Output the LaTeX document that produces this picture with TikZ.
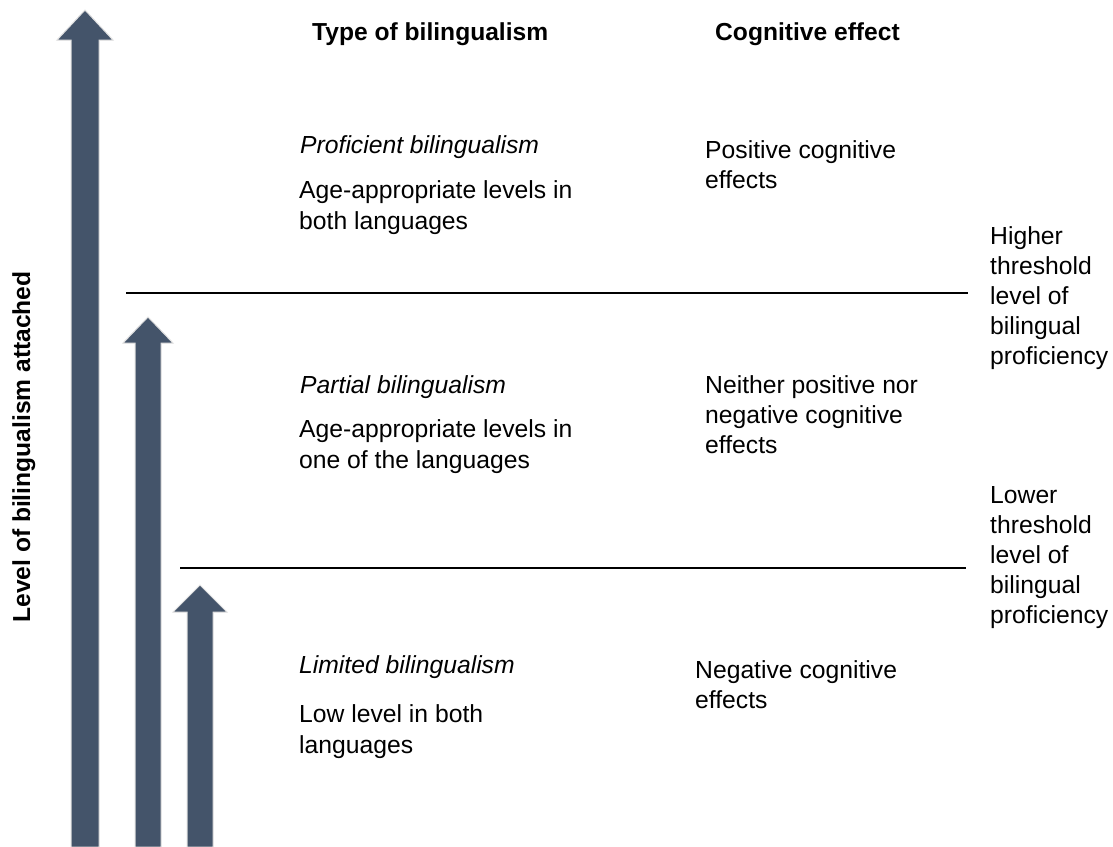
\documentclass[tikz,border=0pt]{standalone}
\usepackage{fontspec}
\setmainfont{Liberation Sans}
\definecolor{arrowblue}{HTML}{44546A}
\begin{document}
\begin{tikzpicture}[x=1pt,y=-1pt,
  txt/.style={anchor=base west, inner sep=0pt, align=left, font=\fontsize{24.7}{31}\selectfont},
  rtxt/.style={anchor=base west, inner sep=0pt, align=left, font=\fontsize{24.7}{30}\selectfont},
  head/.style={anchor=base west, inner sep=0pt, font=\fontsize{24.6}{30}\selectfont\bfseries},
  ital/.style={anchor=base west, inner sep=0pt, font=\fontsize{24.7}{30}\selectfont\itshape},
  bigarrow/.style={fill=arrowblue, draw=black!12, line width=1pt},
  threshold/.style={line width=2pt, black}]
\useasboundingbox (0,0) rectangle (1113,846);
% arrows
\fill[bigarrow] (71,847) -- (71,40) -- (57,40) -- (85,10) -- (113,40) -- (99,40) -- (99,847) -- cycle;
\fill[bigarrow] (135,847) -- (135,343) -- (123,343) -- (148,317) -- (173,343) -- (161,343) -- (161,847) -- cycle;
\fill[bigarrow] (187,847) -- (187,612) -- (173,612) -- (200,585) -- (227,612) -- (213,612) -- (213,847) -- cycle;
% threshold lines
\coordinate (h1) at (126,293);
\coordinate (h2) at (968,293);
\coordinate (l1) at (180,568);
\coordinate (l2) at (966,568);
\draw[threshold] (h1) -- (h2);
\draw[threshold] (l1) -- (l2);
% axis label
\node[anchor=base, inner sep=0pt, rotate=90, font=\fontsize{24.6}{30}\selectfont\bfseries] (axis) at (30,447) {Level of bilingualism attached};
% headers
\node[head] (type) at (312,40) {Type of bilingualism};
\node[head] (cog) at (715,40) {Cognitive effect};
% proficient (multi-line nodes: base = last line)
\node[ital] (prof) at (300,153) {Proficient bilingualism};
\node[txt] (profd) at (299,229) {Age-appropriate levels in\\both languages};
\node[rtxt] (pos) at (705,188) {Positive cognitive\\effects};
% partial
\node[ital] (part) at (300,393) {Partial bilingualism};
\node[txt] (partd) at (299,468) {Age-appropriate levels in\\one of the languages};
\node[rtxt] (neit) at (705,453) {Neither positive nor\\negative cognitive\\effects};
% limited
\node[ital] (lim) at (299,673) {Limited bilingualism};
\node[txt] (limd) at (299,753) {Low level in both\\languages};
\node[rtxt] (neg) at (695,708) {Negative cognitive\\effects};
% thresholds labels
\node[rtxt] (hi) at (990,364) {Higher\\threshold\\level of\\bilingual\\proficiency};
\node[rtxt] (lo) at (990,623) {Lower\\threshold\\level of\\bilingual\\proficiency};
\end{tikzpicture}
\end{document}
